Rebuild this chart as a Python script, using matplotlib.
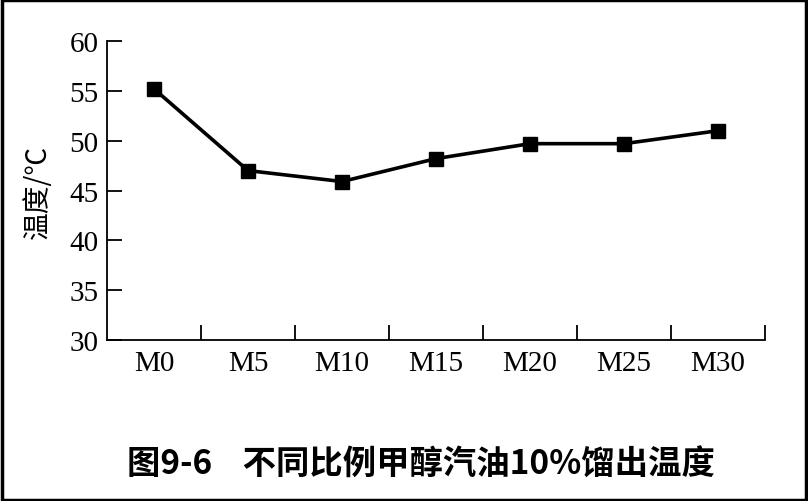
import matplotlib.pyplot as plt
from matplotlib.patches import Rectangle

# data
categories = ['M0', 'M5', 'M10', 'M15', 'M20', 'M25', 'M30']
temps = [55.2, 47.0, 45.9, 48.2, 49.7, 49.7, 51.0]
yticks = [30, 35, 40, 45, 50, 55, 60]

fig = plt.figure(figsize=(8.08, 5.02), dpi=100)
ax = fig.add_axes([0.1324, 0.3207, 0.8144, 0.5956])

x = list(range(len(categories)))
ax.plot(x, temps, color='black', lw=2.6, marker='s', ms=9.5, mfc='black', mec='black')

ax.set_xlim(-0.5, len(categories) - 0.5)
ax.set_ylim(30, 60)
ax.set_yticks(yticks)
ax.set_yticklabels([str(v) for v in yticks], family='Liberation Serif', fontsize=21)

# ticks at category boundaries, labels at centres
ax.set_xticks([i + 0.5 for i in x])
ax.set_xticklabels([])
ax.set_xticks(x, minor=True)
ax.set_xticklabels(categories, minor=True, family='Liberation Serif', fontsize=21)
ax.tick_params(axis='x', which='major', direction='in', length=11, width=1.3)
ax.tick_params(axis='x', which='minor', length=0, pad=7)
ax.tick_params(axis='y', direction='in', length=11, width=1.3, pad=6)

for s in ['top', 'right']:
    ax.spines[s].set_visible(False)
for s in ['left', 'bottom']:
    ax.spines[s].set_linewidth(1.3)

ax.set_ylabel('温度/℃', family=['Noto Sans CJK SC', 'DejaVu Sans'], fontsize=20, labelpad=12)

fig.text(0.521, 0.074, '图9-6    不同比例甲醇汽油10%馏出温度', ha='center', va='center',
         family=['Noto Sans CJK SC', 'DejaVu Sans'], fontsize=24, weight='bold')

fig.patches.append(Rectangle((0.002, 0.002), 0.996, 0.996, transform=fig.transFigure,
                             fill=False, ec='black', lw=2.5))

fig.savefig('out.png', dpi=100)
